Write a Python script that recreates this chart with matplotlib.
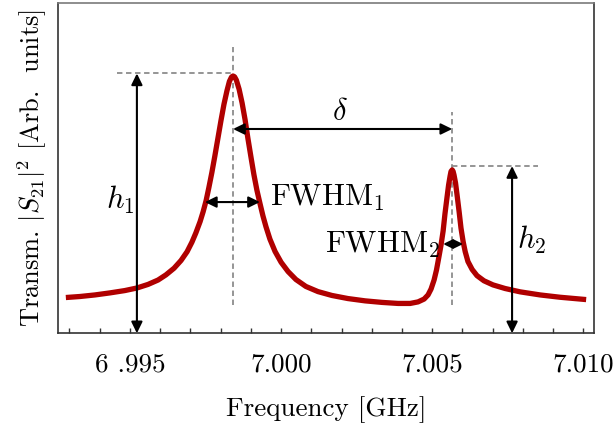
import matplotlib
matplotlib.use("Agg")
import matplotlib.pyplot as plt
import numpy as np

plt.rcParams['font.family'] = 'serif'
plt.rcParams['font.serif'] = ['cmr10', 'DejaVu Serif']
plt.rcParams['mathtext.fontset'] = 'cm'
plt.rcParams['axes.unicode_minus'] = False

# ---- data ----
freq_ghz = [6.99288, 6.99335, 6.99384, 6.99434, 6.99483, 6.99523, 6.99560, 6.99593,
            6.99619, 6.99646, 6.99669, 6.99689, 6.99705, 6.99718, 6.99732, 6.99742,
            6.99752, 6.99761, 6.99771, 6.99781, 6.99791, 6.99801, 6.99811, 6.99821,
            6.99829, 6.99836, 6.99841, 6.99846, 6.99852, 6.99861, 6.99871, 6.99881,
            6.99890, 6.99900, 6.99910, 6.99920, 6.99930, 6.99940, 6.99950, 6.99963,
            6.99980, 7.00000, 7.00023, 7.00049, 7.00082, 7.00122, 7.00168, 7.00221,
            7.00278, 7.00334, 7.00387, 7.00427, 7.00453, 7.00473, 7.00486, 7.00496,
            7.00506, 7.00514, 7.00522, 7.00529, 7.00536, 7.00542, 7.00549, 7.00554,
            7.00559, 7.00562, 7.00566, 7.00569, 7.00572, 7.00577, 7.00582, 7.00589,
            7.00595, 7.00602, 7.00609, 7.00618, 7.00632, 7.00648, 7.00671, 7.00701,
            7.00741, 7.00791, 7.00857, 7.00923, 7.01009]
transmission = [0.139, 0.143, 0.149, 0.157, 0.166, 0.176, 0.190, 0.207,
                0.227, 0.253, 0.283, 0.317, 0.354, 0.390, 0.434, 0.472,
                0.516, 0.566, 0.625, 0.690, 0.758, 0.826, 0.890, 0.943,
                0.979, 0.996, 1.000, 0.997, 0.984, 0.949, 0.895, 0.829,
                0.759, 0.687, 0.617, 0.556, 0.505, 0.456, 0.414, 0.366,
                0.318, 0.276, 0.240, 0.209, 0.182, 0.162, 0.147, 0.135,
                0.126, 0.120, 0.116, 0.116, 0.122, 0.133, 0.149, 0.172,
                0.207, 0.246, 0.297, 0.343, 0.398, 0.464, 0.530, 0.576,
                0.611, 0.629, 0.635, 0.629, 0.615, 0.584, 0.538, 0.471,
                0.409, 0.357, 0.317, 0.279, 0.248, 0.224, 0.204, 0.188,
                0.174, 0.161, 0.149, 0.140, 0.131]

tick_positions = [6.993, 6.994, 6.995, 6.996, 6.997, 6.998, 6.999, 7.000, 7.001,
                  7.002, 7.003, 7.004, 7.005, 7.006, 7.007, 7.008, 7.009, 7.010]
tick_labels = ['', '', '6 .995', '', '', '', '', '7.000', '', '', '', '',
               '7.005', '', '', '', '', '7.010']

# annotation quantities
f1, h1 = 6.99841, 1.01
f2, h2 = 7.00566, 0.650
fwhm1 = (6.99748, 6.99930)
fwhm1_level = 0.510
fwhm2 = (7.00536, 7.00602)
fwhm2_level = 0.347
h1_arrow_x = 6.99523
h2_arrow_x = 7.00764
delta_level = 0.794

fig = plt.figure(figsize=(6.13, 4.28), dpi=100)
ax = fig.add_axes([0.0951, 0.2213, 0.8744, 0.7717])
ax.set_xlim(6.99263, 7.01036)
ax.set_ylim(0, 1.2837)

dash_kw = dict(color='#8c8c8c', lw=1.3, ls=(0, (3, 2)), zorder=1)
ax.plot([f1, f1], [0.110, 1.114], **dash_kw)
ax.plot([6.99457, f1], [h1, h1], **dash_kw)
ax.plot([f2, f2], [0.110, 0.860], **dash_kw)
ax.plot([f2, 7.00850], [h2, h2], **dash_kw)

ax.plot(freq_ghz, transmission, color='#b00000', lw=3.8, solid_joinstyle='round',
        solid_capstyle='butt', zorder=3)

arrow_kw = dict(arrowstyle='<|-|>,head_length=0.45,head_width=0.22', color='black',
                lw=1.5, mutation_scale=15, shrinkA=0, shrinkB=0)
ax.annotate('', xy=(h1_arrow_x, 0), xytext=(h1_arrow_x, h1), arrowprops=arrow_kw, zorder=4)
ax.annotate('', xy=(h2_arrow_x, 0), xytext=(h2_arrow_x, h2), arrowprops=arrow_kw, zorder=4)
ax.annotate('', xy=(f1, delta_level), xytext=(f2, delta_level), arrowprops=arrow_kw, zorder=4)
ax.annotate('', xy=(fwhm1[0], fwhm1_level), xytext=(fwhm1[1], fwhm1_level), arrowprops=arrow_kw, zorder=4)
ax.annotate('', xy=(fwhm2[0], fwhm2_level), xytext=(fwhm2[1], fwhm2_level),
            arrowprops=dict(arrowstyle='<|-|>,head_length=0.45,head_width=0.22', color='black',
                            lw=1.5, mutation_scale=12, shrinkA=0, shrinkB=0), zorder=4)

fs_ann = 22
ax.text(6.99467, 0.518, r'$h_1$', fontsize=fs_ann, ha='center', va='center')
ax.text(7.00827, 0.363, r'$h_2$', fontsize=fs_ann, ha='center', va='center')
ax.text(7.00195, 0.860, r'$\delta$', fontsize=fs_ann, ha='center', va='center')
ax.text(6.99963, 0.525, r'FWHM$_1$', fontsize=fs_ann, ha='left', va='center')
ax.text(7.00526, 0.345, r'FWHM$_2$', fontsize=fs_ann, ha='right', va='center')

ax.set_xticks(tick_positions)
ax.set_xticklabels(tick_labels, fontsize=19.5)
ax.tick_params(axis='x', direction='in', length=3.5, width=1.0, pad=14, color='#333333')
ax.set_yticks([])

for side in ['left', 'right', 'bottom']:
    ax.spines[side].set_color('#333333')
    ax.spines[side].set_linewidth(1.2)
ax.spines['top'].set_color('#7a7a7a')
ax.spines['top'].set_linewidth(1.2)

ax.set_xlabel('Frequency [GHz]', fontsize=19.5, labelpad=14)
ax.set_ylabel(r'Transm. $|S_{21}|^2$ [Arb.  units]', fontsize=19, labelpad=7)

fig.savefig('out.png', dpi=100)
